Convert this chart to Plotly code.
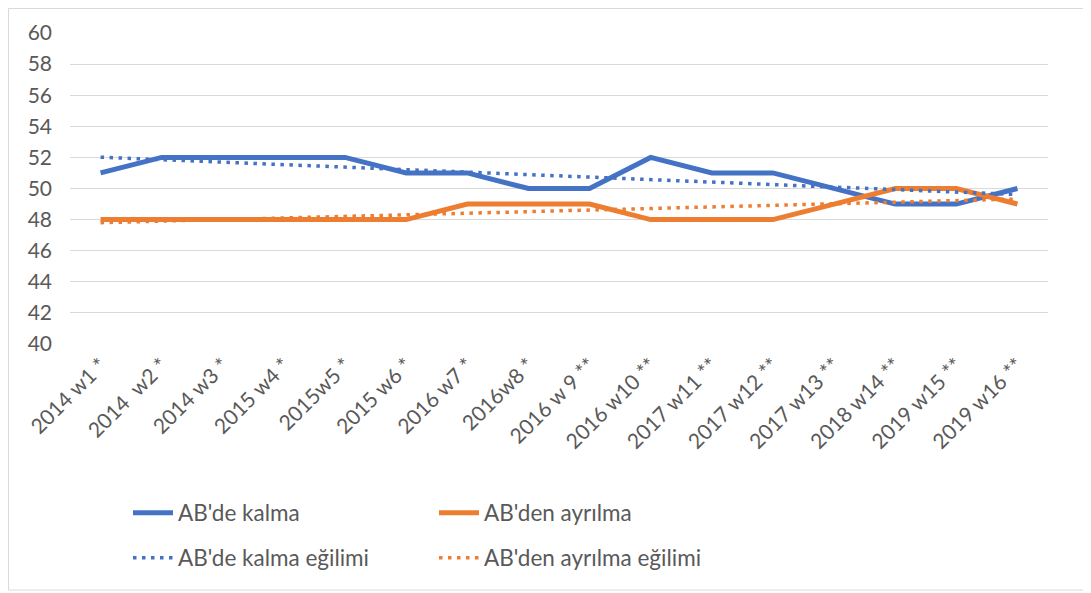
import numpy as np
import plotly.graph_objects as go

categories = ["2014 w1 *", "2014  w2 *", "2014 w3 *", "2015 w4 *", "2015w5 *", "2015 w6 *",
              "2016 w7 *", "2016w8 *", "2016 w 9 **", "2016 w10 **", "2017 w11 **",
              "2017 w12 **", "2017 w13 **", "2018 w14 **", "2019 w15 **", "2019 w16 **"]
kalma = [51, 52, 52, 52, 52, 51, 51, 50, 50, 52, 51, 51, 50, 49, 49, 50]
ayrilma = [48, 48, 48, 48, 48, 48, 49, 49, 49, 48, 48, 48, 49, 50, 50, 49]
y_ticks = [40, 42, 44, 46, 48, 50, 52, 54, 56, 58, 60]

BLUE = "#4472C4"
ORANGE = "#ED7D31"
FONT = "Lato"
FS = 21
LFS = 22.5
GREY = "#595959"

idx = np.arange(1, len(categories) + 1)
def trend(vals):
    m, b = np.polyfit(idx, vals, 1)
    return list(m * idx + b)

fig = go.Figure()
fig.add_trace(go.Scatter(x=categories, y=kalma, mode="lines", name="AB'de kalma",
                         line=dict(color=BLUE, width=5), legend="legend"))
fig.add_trace(go.Scatter(x=categories, y=ayrilma, mode="lines", name="AB'den ayrılma",
                         line=dict(color=ORANGE, width=5), legend="legend"))
fig.add_trace(go.Scatter(x=categories, y=trend(kalma), mode="lines", name="AB'de kalma eğilimi",
                         line=dict(color=BLUE, width=3.5, dash="3.5px,5.5px"), legend="legend2"))
fig.add_trace(go.Scatter(x=categories, y=trend(ayrilma), mode="lines", name="AB'den ayrılma eğilimi",
                         line=dict(color=ORANGE, width=3.5, dash="3.5px,5.5px"), legend="legend2"))

OFF = 8  # page body margin
W, H = 1091 - OFF, 593 - OFF
L, R, T, B = 70 - OFF, 1091 - 1048, 33 - OFF, 593 - 344
pw, ph = W - L - R, H - T - B
# convert absolute page pixel -> paper coordinates
def px(x): return (x - OFF - L) / pw
def py(y): return (H - B - (y - OFF)) / ph

legend_common = dict(orientation="h", xanchor="left", yanchor="middle",
                     font=dict(family=FONT, size=LFS, color=GREY),
                     entrywidth=251, entrywidthmode="pixels", bgcolor="rgba(0,0,0,0)",
                     itemwidth=40)

fig.update_layout(
    width=W, height=H,
    margin=dict(l=L, r=R, t=T, b=B),
    paper_bgcolor="white", plot_bgcolor="white",
    font=dict(family=FONT, size=FS, color=GREY),
    showlegend=True,
    legend=dict(x=px(128), y=py(513), **legend_common),
    legend2=dict(x=px(128), y=py(558), **legend_common),
    xaxis=dict(type="category", range=[-0.5, len(categories) - 0.5], tickangle=-45,
               showgrid=False, showline=False, zeroline=False,
               tickfont=dict(family=FONT, size=FS, color=GREY), ticklabelstandoff=4),
    yaxis=dict(range=[40, 60], tickvals=y_ticks, showgrid=True, gridcolor="#D9D9D9",
               gridwidth=1, zeroline=False, showline=False,
               tickfont=dict(family=FONT, size=FS, color=GREY), ticklabelstandoff=17),
    shapes=[dict(type="rect", xref="paper", yref="paper", x0=px(8.5), x1=px(1087.5),
                 y0=py(590), y1=py(8.5), line=dict(color="#D9D9D9", width=1), layer="below")],
)

fig.write_html("out.html")
